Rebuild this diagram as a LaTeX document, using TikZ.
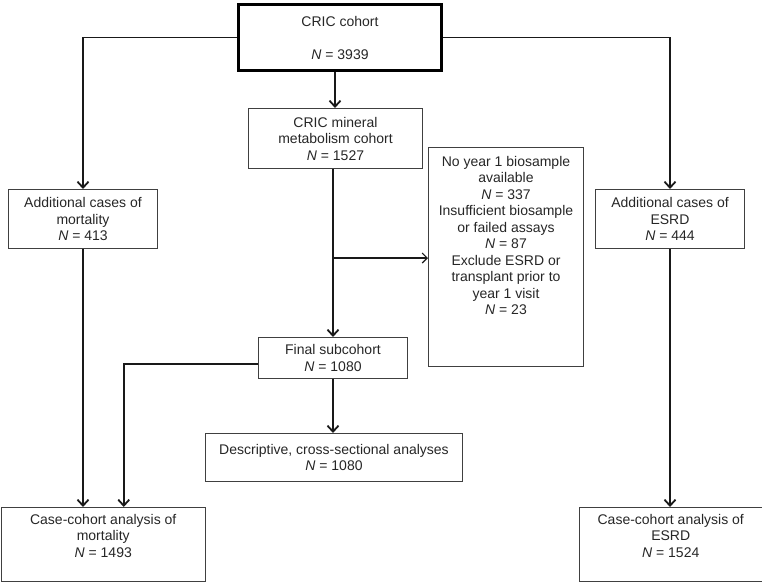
\documentclass[tikz,border=0pt]{standalone}
\usepackage{fontspec}
\setmainfont{Liberation Sans}
\usetikzlibrary{arrows.meta,calc}
\begin{document}
\begin{tikzpicture}[x=1pt,y=-1pt,
  box/.style={draw=black!75,line width=1pt,rectangle,inner sep=0pt,anchor=north west,
    font=\fontsize{14}{16.5}\selectfont,align=center,text=black!85},
  txt/.style={inner sep=0pt,font=\fontsize{14}{16.5}\selectfont,align=center,text=black!85},
  arr/.style={line width=1.8pt,draw=black!90,-{Straight Barb[length=6pt,width=11pt]}},
  thinarr/.style={line width=1.1pt,draw=black!90,-{Straight Barb[length=5pt,width=10pt]}}]
\useasboundingbox (0,0) rectangle (762,582);
% boxes
\node[box,draw=black,line width=3pt,minimum width=203,minimum height=66] (cric) at (237,3)
  {CRIC cohort\\[16.5pt]\textit{N} = 3939};
\node[box,minimum width=174,minimum height=60] (mineral) at (248,108)
  {CRIC mineral\\metabolism cohort\\\textit{N} = 1527};
\node[box,minimum width=149,minimum height=59] (addmort) at (8,189)
  {Additional cases of\\mortality\\\textit{N} = 413};
\node[box,minimum width=149,minimum height=59] (addesrd) at (595,189)
  {Additional cases of\\ESRD\\\textit{N} = 444};
\node[box,minimum width=155,minimum height=219] (excl) at (428,147) {};
\node[txt,anchor=north] (exclt) at ($(excl.north)+(0,9)$)
  {No year 1 biosample\\available\\\textit{N} = 337\\Insufficient biosample\\or failed assays\\\textit{N} = 87\\Exclude ESRD or\\transplant prior to\\year 1 visit\\\textit{N} = 23};
\node[box,minimum width=149,minimum height=41] (final) at (258,337)
  {Final subcohort\\\textit{N} = 1080};
\node[box,minimum width=257,minimum height=48] (desc) at (205,433)
  {Descriptive, cross-sectional analyses\\\textit{N} = 1080};
\node[box,minimum width=204.5,minimum height=74] (ccm) at (0.5,507) {};
\node[txt,anchor=north] (ccmt) at ($(ccm.north)+(0,7)$)
  {Case-cohort analysis of\\mortality\\\textit{N} = 1493};
\node[box,minimum width=182.5,minimum height=74] (ccesrd) at (579,507) {};
\node[txt,anchor=north] (ccesrdt) at ($(ccesrd.north)+(0,7)$)
  {Case-cohort analysis of\\ESRD\\\textit{N} = 1524};
% connectors
\draw[arr] (cric.west) -| (addmort.north);
\draw[arr] (cric.east) -| (addesrd.north);
\draw[arr] ([xshift=-5pt]cric.south) -- ([xshift=-5pt]cric.south |- mineral.north);
\draw[arr] (final.north |- mineral.south) -- (final.north);
\coordinate (br) at ($(final.north |- mineral.south)+(0,89)$);
\draw[thinarr] (br) -- (br -| excl.west);
\draw[arr] (final.south) -- (final.south |- desc.north);
\coordinate (ccmin) at ($(ccm.north)+(20.5,0)$);
\draw[arr] ([yshift=-6pt]final.west) -| (ccmin);
\draw[arr] (addmort.south) -- (addmort.south |- ccm.north);
\draw[arr] (addesrd.south) -- (addesrd.south |- ccesrd.north);
\end{tikzpicture}
\end{document}
